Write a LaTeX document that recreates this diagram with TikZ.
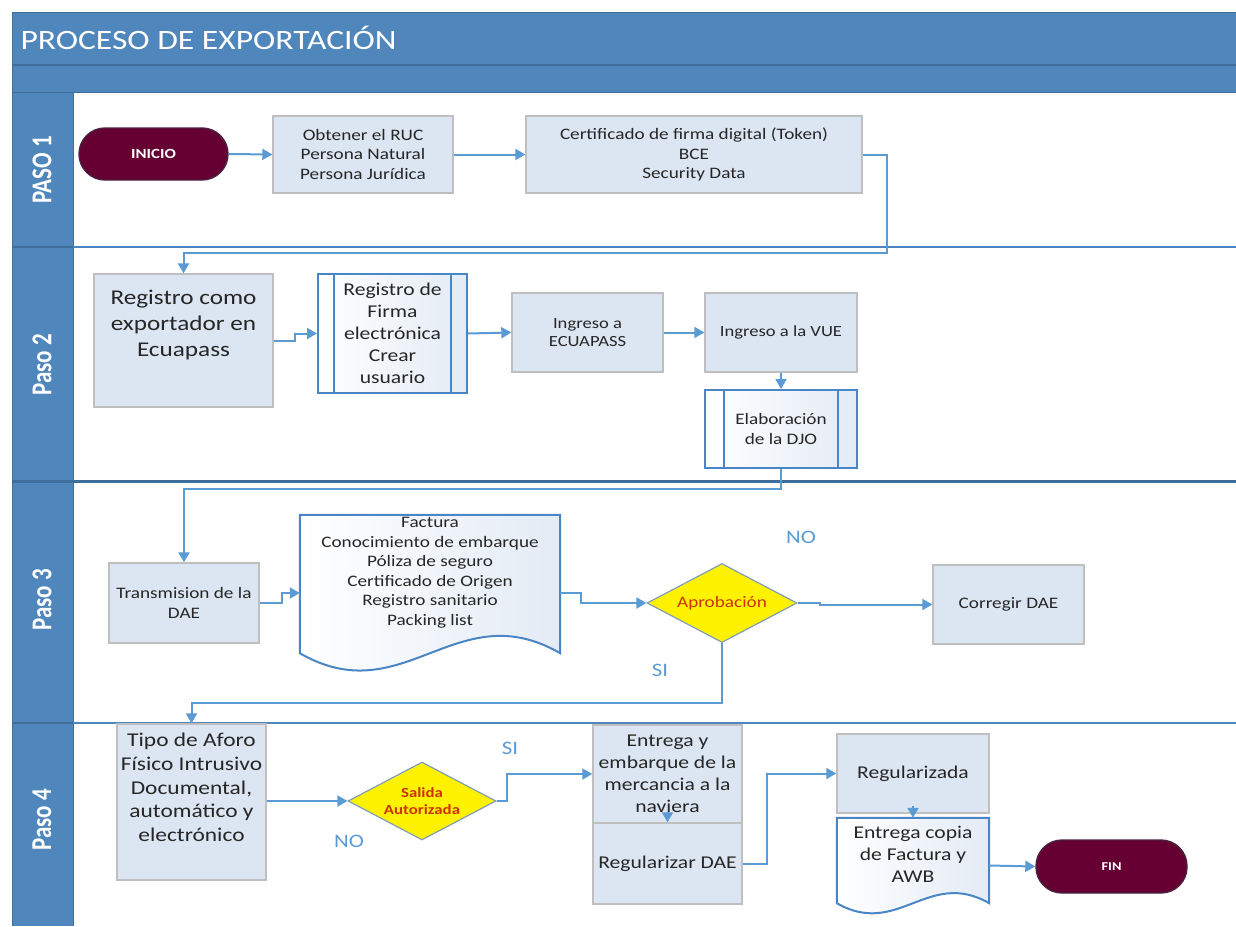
\documentclass[tikz,border=0pt]{standalone}
\usepackage{fontspec}
\setmainfont{Carlito}[FakeStretch=1.2]
\newfontfamily\lanefont{Carlito}
\usetikzlibrary{shapes.geometric,arrows.meta,calc}
\definecolor{band}{HTML}{4F86BC}
\definecolor{bandline}{HTML}{3D6E9C}
\definecolor{conn}{HTML}{5B9BD5}
\definecolor{boxfill}{HTML}{DCE6F2}
\definecolor{boxline}{HTML}{BFBFBF}
\definecolor{subline}{HTML}{4A86C5}
\definecolor{subfill}{HTML}{E3EBF5}
\definecolor{maroon}{HTML}{660033}
\definecolor{termline}{HTML}{4A2040}
\definecolor{decline}{HTML}{7F9DB9}
\definecolor{dectext}{HTML}{CC3300}
\definecolor{txt}{HTML}{262626}
\tikzset{
  arr/.style={draw=conn, line width=2pt, -{Triangle[width=11pt,length=10pt]}},
  box/.style={rectangle, fill=boxfill, draw=boxline, line width=1.4pt, align=center, text=txt, inner sep=2pt},
  subproc/.style={rectangle, draw=subline, line width=2pt, left color=white, right color=subfill, align=center, text=txt, inner sep=2pt},
  docshape/.style={draw=subline, line width=2pt, left color=white, right color=subfill},
  term/.style={rectangle, rounded corners=26pt, fill=maroon, draw=termline, line width=1.4pt, text=white},
  dec/.style={diamond, fill=yellow, draw=decline, line width=1.2pt, inner sep=0pt},
  dectxt/.style={text=dectext, align=center},
  lbl/.style={text=conn, font=\fontsize{19}{22}\selectfont},
  lane/.style={rotate=90, text=white, font=\lanefont\bfseries\fontsize{23}{26}\selectfont},
  fa/.style={font=\fontsize{15.5}{18}\selectfont},
  fb/.style={font=\fontsize{16}{19.5}\selectfont},
  fc/.style={font=\fontsize{18}{22}\selectfont},
  fd/.style={font=\fontsize{19.5}{23.7}\selectfont},
  fe/.style={font=\fontsize{21}{26}\selectfont},
}
\begin{document}
\begin{tikzpicture}[x=1pt,y=-1pt]
\useasboundingbox (0,0) rectangle (1236,926);
\fill[white] (0,0) rectangle (1236,926);
% pool frame
\fill[band] (12,12) rectangle (1236,92);
\fill[band] (12,92) rectangle (73,926);
\draw[bandline, line width=1.5pt] (12,65) -- (1236,65);
\draw[bandline, line width=1pt] (12,92) -- (1236,92);
\draw[bandline, line width=1pt] (12,12) -- (1236,12);
\draw[bandline, line width=1pt] (12,12) -- (12,926);
\draw[bandline, line width=1pt] (73,92) -- (73,926);
% lane separators
\draw[subline, line width=2pt] (73,247) -- (1236,247);
\draw[bandline, line width=1.5pt] (12,247) -- (73,247);
\draw[bandline, line width=3pt] (12,481) -- (1236,481);
\draw[band, line width=2pt] (73,723) -- (1236,723);
\draw[bandline, line width=1.5pt] (12,723) -- (73,723);
% titles
\node[anchor=west, text=white, font=\fontsize{28}{32}\selectfont] (title) at (17,38) {PROCESO DE EXPORTACIÓN};
\node[lane] (p1) at (42,170) {\scalebox{1}[1.25]{PASO 1}};
\node[lane] (p2) at (42,365) {\scalebox{1}[1.25]{Paso 2}};
\node[lane] (p3) at (42,600) {\scalebox{1}[1.25]{Paso 3}};
\node[lane] (p4) at (42,820) {\scalebox{1}[1.25]{Paso 4}};

% Lane 1
\node[term, minimum width=149pt, minimum height=52pt, font=\bfseries\fontsize{14}{16}\selectfont] (inicio) at (153.5,154) {INICIO};
\node[box, fb, minimum width=180pt, minimum height=77pt] (ruc) at (363,154.5) {Obtener el RUC\\Persona Natural\\Persona Jurídica};
\node[box, fb, minimum width=336pt, minimum height=77pt] (cert) at (694,154.5) {Certificado de firma digital (Token)\\BCE\\Security Data};

% Lane 2
\node[box, minimum width=179pt, minimum height=133pt] (reg) at (183.5,340.5) {};
\node[fe, align=center, text=txt] (regt) at (183.5,325) {Registro como\\exportador en\\Ecuapass};
\node[subproc, fc, minimum width=149pt, minimum height=119pt] (firma) at (392.5,333.5) {Registro de\\Firma\\electrónica\\Crear\\usuario};
\draw[subline, line width=2pt] ([xshift=17pt]firma.north west) -- ([xshift=17pt]firma.south west);
\draw[subline, line width=2pt] ([xshift=-17pt]firma.north east) -- ([xshift=-17pt]firma.south east);
\node[box, fa, minimum width=151pt, minimum height=79pt] (ecua) at (587.5,332.5) {Ingreso a\\ECUAPASS};
\node[box, fa, minimum width=152pt, minimum height=79pt] (vue) at (781,332.5) {Ingreso a la VUE};
\node[subproc, fb, minimum width=152pt, minimum height=78pt] (djo) at (781,429) {Elaboración\\de la DJO};
\draw[subline, line width=2pt] ([xshift=20pt]djo.north west) -- ([xshift=20pt]djo.south west);
\draw[subline, line width=2pt] ([xshift=-20pt]djo.north east) -- ([xshift=-20pt]djo.south east);

% Lane 3
\node[box, fb, minimum width=150pt, minimum height=80pt] (trans) at (184,603) {Transmision de la\\DAE};
\node[minimum width=260pt, minimum height=156pt, inner sep=0pt] (docs) at (430,593) {};
\draw[docshape] (docs.north west) -- (docs.north east) -- ($(docs.south east)+(0,-18)$)
  .. controls ($(docs.south east)+(-104,-78)$) and ($(docs.south west)+(104,42)$) .. ($(docs.south west)+(0,-18)$) -- cycle;
\node[fb, align=center, text=txt] (docst) at (430,572.5) {Factura\\Conocimiento de embarque\\Póliza de seguro\\Certificado de Origen\\Registro sanitario\\Packing list};
\node[dec, minimum width=150pt, minimum height=79pt] (apro) at (722,603) {};
\node[dectxt, font=\fontsize{16}{18}\selectfont] (aprot) at (apro.center) {Aprobación};
\node[box, fb, minimum width=151pt, minimum height=79pt] (corr) at (1008.5,604.5) {Corregir DAE};
\node[lbl] (no1) at (801,537) {NO};
\node[lbl] (si1) at (660,670) {SI};

% Lane 4
\node[box, minimum width=149pt, minimum height=156pt] (tipo) at (191.5,802) {};
\node[fd, align=center, text=txt] (tipot) at (191.5,787.5) {Tipo de Aforo\\Físico Intrusivo\\Documental,\\automático y\\electrónico};
\node[dec, minimum width=148pt, minimum height=78pt] (sal) at (422,801) {};
\node[dectxt, font=\bfseries\fontsize{14}{17}\selectfont] (salt) at (sal.center) {Salida\\Autorizada};
\node[lbl] (si2) at (510,748) {SI};
\node[lbl] (no2) at (349,841) {NO};
\node[box, fc, minimum width=149pt, minimum height=98pt] (entr) at (667.5,774) {Entrega y\\embarque de la\\mercancia a la\\naviera};
\node[box, fc, minimum width=149pt, minimum height=81pt] (rdae) at (667.5,863.5) {Regularizar DAE};
\node[box, fc, minimum width=152pt, minimum height=79pt] (regu) at (913,773.5) {Regularizada};
\node[minimum width=152pt, minimum height=95pt, inner sep=0pt] (copia) at (913,865.5) {};
\draw[docshape] (copia.north west) -- (copia.north east) -- ($(copia.south east)+(0,-10)$)
  .. controls ($(copia.south east)+(-61,-45)$) and ($(copia.south west)+(61,25)$) .. ($(copia.south west)+(0,-10)$) -- cycle;
\node[fc, align=center, text=txt] (copiat) at (913,854) {Entrega copia\\de Factura y\\AWB};
\node[term, minimum width=151pt, minimum height=53pt, font=\bfseries\fontsize{12}{14}\selectfont] (fin) at (1111.5,866.5) {FIN};

% connectors
\draw[arr] (inicio.east) -- (ruc.west);
\draw[arr] (ruc.east) -- (cert.west);
\draw[arr] (cert.east) -- ++(24,0) |- ($(reg.north)+(0,-20)$) -- (reg.north);
\draw[arr] (reg.east) -- ++(21,0) |- (firma.west);
\draw[arr] (firma.east) -- (ecua.west);
\draw[arr] (ecua.east) -- (vue.west);
\draw[arr] (vue.south) -- (djo.north);
\draw[arr] (djo.south) -- ++(0,20) -| (trans.north);
\draw[arr] (trans.east) -- ++(22,0) |- (docs.west);
\draw[arr] (docs.east) -- ++(21,0) |- (apro.west);
\draw[arr] (apro.east) -- ++(22,0) |- (corr.west);
\draw[arr] (apro.south) -- ++(0,60) -| (tipo.north);
\draw[arr] (tipo.east |- sal.west) -- (sal.west);
\draw[arr] (sal.east) -- ++(10,0) |- (entr.west);
\draw[arr] ([yshift=12pt]entr.south) -- (rdae.north);
\draw[arr] (rdae.east) -- ++(24,0) |- (regu.west);
\draw[arr] ([yshift=8pt]regu.south) -- (copia.north);
\draw[arr] (copia.east) -- (fin.west);
\end{tikzpicture}
\end{document}
